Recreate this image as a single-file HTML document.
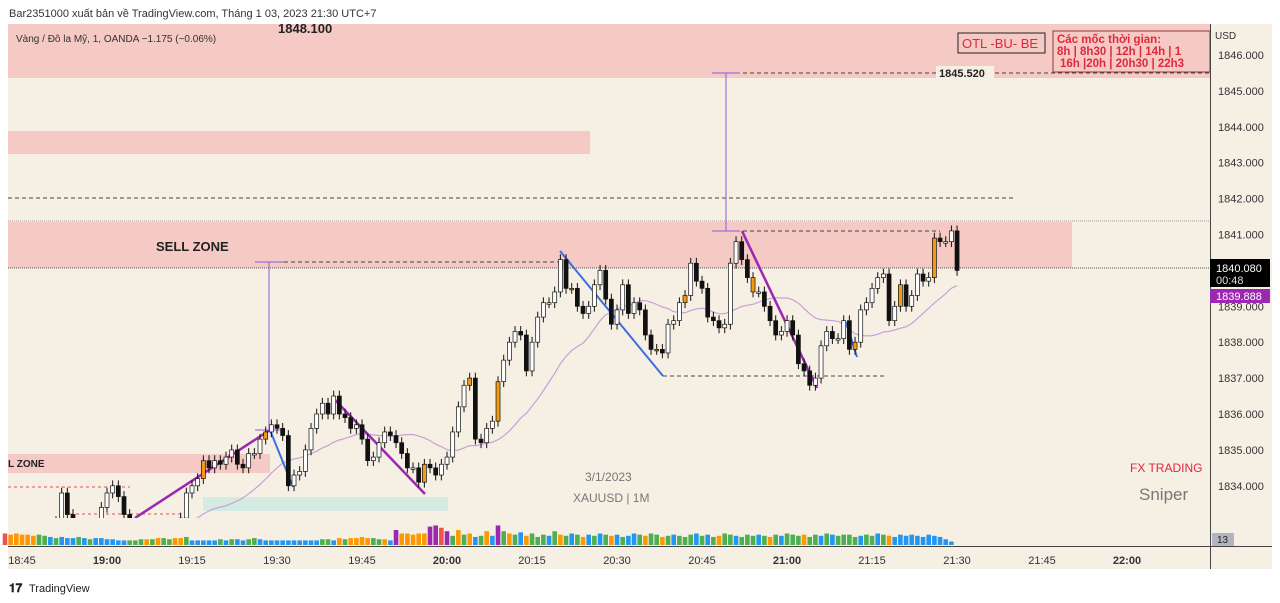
<!DOCTYPE html>
<html><head><meta charset="utf-8">
<style>
body{margin:0;background:#fff;font-family:"Liberation Sans","Noto Sans CJK SC",sans-serif;}
svg{display:block}
</style></head>
<body>
<svg id="c" width="1280" height="603" xmlns="http://www.w3.org/2000/svg">
<rect x="0" y="0" width="1280" height="603" fill="#fff"/>
<text x="9" y="17" font-size="11" fill="#333">Bar2351000 xuất bản về TradingView.com, Tháng 1 03, 2023 21:30 UTC+7</text>
<rect x="8" y="24" width="1264" height="545" fill="#f6efe4"/>
<g id="zones">
<rect x="8" y="24" width="1202" height="54" fill="#f5c9c4"/>
<rect x="8" y="131" width="582" height="23" fill="#f5c9c4"/>
<rect x="8" y="222" width="1064" height="46" fill="#f5c9c4"/>
<rect x="8" y="454" width="262" height="19" fill="#f5c9c4"/>
<rect x="203" y="497" width="245" height="14" fill="#d3ebe3"/>
</g>
<g stroke-width="1" fill="none">
<line x1="8" y1="221" x2="1210" y2="221" stroke="#999" stroke-dasharray="1,1"/>
<line x1="8" y1="268" x2="1210" y2="268" stroke="#555" stroke-dasharray="1,1"/>
<line x1="8" y1="198" x2="1015" y2="198" stroke="#444" stroke-dasharray="4,3"/>
<line x1="270" y1="262" x2="560" y2="262" stroke="#444" stroke-dasharray="4,3"/>
<line x1="715" y1="231" x2="940" y2="231" stroke="#444" stroke-dasharray="4,3"/>
<line x1="663" y1="376" x2="885" y2="376" stroke="#444" stroke-dasharray="4,3"/>
<line x1="715" y1="73" x2="1210" y2="73" stroke="#444" stroke-dasharray="4,3"/>
<line x1="8" y1="487" x2="130" y2="487" stroke="#e05050" stroke-dasharray="3,3"/>
<line x1="70" y1="514" x2="185" y2="514" stroke="#e05050" stroke-dasharray="3,3"/>
<line x1="269" y1="262" x2="269" y2="430" stroke="#8a5cd6"/>
<line x1="255" y1="262" x2="284" y2="262" stroke="#8a5cd6"/>
<line x1="255" y1="430" x2="284" y2="430" stroke="#8a5cd6"/>
<line x1="726" y1="73" x2="726" y2="231" stroke="#8a5cd6"/>
<line x1="712" y1="231" x2="740" y2="231" stroke="#8a5cd6"/>
<line x1="712" y1="73" x2="740" y2="73" stroke="#8a5cd6"/>
</g>
<rect x="936" y="66" width="58" height="14" fill="#f6efe4"/>
<text x="939" y="77" font-size="11" font-weight="bold" fill="#222">1845.520</text>
<text x="278" y="33" font-size="13" font-weight="bold" fill="#222">1848.100</text>
<text x="16" y="42" font-size="10" fill="#333">Vàng / Đô la Mỹ, 1, OANDA  −1.175 (−0.06%)</text>
<text x="156" y="251" font-size="13" font-weight="bold" fill="#222">SELL ZONE</text>
<text x="8" y="467" font-size="10" font-weight="bold" fill="#222">L ZONE</text>
<rect x="958" y="33" width="87" height="20" fill="none" stroke="#222"/>
<text x="962" y="48" font-size="13" fill="#e0283c">OTL -BU- BE</text>
<rect x="1053" y="31" width="157" height="41" fill="none" stroke="#8a3a3a"/>
<text font-size="11.5" fill="#e0283c" font-weight="bold"><tspan x="1057" y="43">Các mốc thời gian:</tspan><tspan x="1057" y="55">8h | 8h30 | 12h | 14h | 1</tspan><tspan x="1060" y="67">16h |20h | 20h30 | 22h3</tspan></text>
<text x="1130" y="472" font-size="12" fill="#e0283c">FX TRADING</text>
<text x="1139" y="500" font-size="17" fill="#777">Sniper</text>
<text x="585" y="481" font-size="12" fill="#777">3/1/2023</text>
<text x="573" y="502" font-size="12" fill="#777">XAUUSD | 1M</text>
<g id="plot"></g>
<line x1="8" y1="546.5" x2="1272" y2="546.5" stroke="#444"/>
<line x1="1210.5" y1="24" x2="1210.5" y2="569" stroke="#444"/>
<g id="axes"></g>
<rect x="1210" y="259" width="60" height="28" fill="#000"/>
<text x="1216" y="272" font-size="11" fill="#fff">1840.080</text>
<text x="1216" y="284" font-size="11" fill="#ddd">00:48</text>
<rect x="1210" y="289" width="60" height="14" fill="#9c27b0"/>
<text x="1216" y="300" font-size="11" fill="#fff">1839.888</text>
<rect x="1212" y="533" width="22" height="13" fill="#b2b5be"/>
<text x="1217" y="543" font-size="10" fill="#222">13</text>
<text x="1215" y="39" font-size="10" fill="#333">USD</text>
<g>
<text x="9" y="592" font-size="12" font-weight="bold" fill="#222">𝟏𝟕</text>
<text x="29" y="592" font-size="11" fill="#222">TradingView</text>
</g>
</svg>
<script>
const closes=[1832.4,1832.5,1832.4,1832.5,1832.4,1832.3,1832.5,1832.4,1832.6,1833.0,1833.8,1833.2,1832.6,1832.4,1832.5,1832.6,1832.8,1833.4,
1833.8,1834.0,1833.7,1833.2,1832.8,1832.6,1832.5,1832.6,1832.4,1832.5,1832.6,1832.7,1832.9,1833.1,1833.8,1834.0,1834.2,1834.7,1834.5,1834.7,1834.6,1834.8,1835.0,1834.6,1834.5,1834.9,1834.9,1835.3,1835.5,1835.7,1835.6,1835.4,1834.0,1834.3,1834.4,1835.0,1835.6,1836.0,1836.3,1836.0,1836.5,1836.0,1835.9,1835.6,1835.7,1835.3,1834.7,1834.8,1835.2,1835.5,1835.4,1835.2,1834.9,1834.5,1834.5,1834.1,1834.6,1834.5,1834.3,1834.6,
1834.8,1835.5,1836.2,1836.8,1837.0,1835.3,1835.2,1835.6,1835.8,1836.9,1837.5,1838.0,1838.3,1838.2,1837.2,1838.0,1838.7,1839.1,1839.1,1839.4,1840.3,1839.5,1839.5,1839.0,1838.8,1839.0,1839.6,1840.0,1839.2,1838.5,1838.9,1839.6,1838.8,1839.1,1838.9,1838.2,1837.8,1837.8,1837.7,1838.5,1838.6,1839.1,1839.3,1840.2,1839.7,1839.5,1838.7,1838.6,1838.4,1838.5,1840.2,1840.8,1840.3,1839.8,1839.4,1839.4,1839.0,1838.6,1838.2,1838.3,1838.6,1838.2,1837.4,1837.2,1836.8,1837.0,1837.9,1838.3,1838.1,1838.1,1838.6,1837.8,1838.0,1838.9,1839.1,1839.5,1839.8,1839.9,1838.6,1839.0,1839.6,1839.0,1839.3,1839.9,1839.7,1839.8,1840.9,1840.8,1840.8,1841.1,1840.0];
const orangeIdx=[35,46,74,82,87,100,115,120,132,150,158,164];
const vols=[10,9,10,9,9,8,9,8,7,6,7,6,6,7,6,5,6,6,5,5,4,4,4,4,5,5,5,6,6,5,6,6,7,4,4,4,4,4,5,4,5,5,4,5,6,5,4,4,4,4,4,4,4,4,4,4,5,5,4,6,5,6,6,7,6,6,5,5,4,13,10,10,9,10,10,16,17,15,12,8,13,9,10,7,8,12,8,17,12,10,9,11,8,10,7,9,8,12,9,8,10,9,7,9,8,10,9,8,9,7,8,10,9,8,10,9,7,8,9,8,7,9,10,8,9,7,8,10,9,8,7,9,8,9,8,7,9,8,10,9,8,9,7,9,8,10,9,8,9,9,7,8,9,8,10,9,8,7,9,8,9,8,7,9,8,7,5,3];
const volColors="roooooggbgbbbgbgbbbbbbgggogoggoogbbbbbgbgbbggbbbbbbbbbbbggbogooooggobpooooopprpgogobgobpgogbogggbgogbgobgbgobgbbgoggogbgggbgbgoggbgggbgogbgggoggbgbggggbggbgob";
const priceTicks=[1834,1835,1836,1837,1838,1839,1840,1841,1842,1843,1844,1845,1846];
const timeTicks=["18:45","19:00","19:15","19:30","19:45","20:00","20:15","20:30","20:45","21:00","21:15","21:30","21:45","22:00"];
const boldTimes=["19:00","20:00","21:00","22:00"];

const NS="http://www.w3.org/2000/svg";
const plot=document.getElementById('plot'),axes=document.getElementById('axes');
const xOf=i=>5+i*5.667;
const yOf=p=>55+(1846-p)*35.9;
const tx=k=>22+k*85;
function mk(tag,at,parent){const e=document.createElementNS(NS,tag);for(const k in at)e.setAttribute(k,at[k]);parent.appendChild(e);return e;}
const clip=mk('clipPath',{id:'cp'},plot);mk('rect',{x:8,y:24,width:1202,height:494},clip);
const cg=mk('g',{'clip-path':'url(#cp)'},plot);
let pts=[];
for(let i=0;i<closes.length;i++){const s=closes.slice(Math.max(0,i-19),i+1);const m=s.reduce((a,b)=>a+b,0)/s.length;pts.push(xOf(i).toFixed(1)+','+yOf(m).toFixed(1));}
const ma=mk('polyline',{points:pts.join(' '),fill:'none',stroke:'#c9a0d6','stroke-width':1.2},cg);


const tl=[[135,518,270,430,'#9c27b0',2.5],[335,400,425,494,'#9c27b0',2.5],[270,430,293,487,'#3b6fe0',2],[560,251,663,376,'#3b6fe0',2],[742,231,817,388,'#9c27b0',2.5],[846,322,857,357,'#3b6fe0',2]];
tl.forEach(t=>{const l=mk('line',{x1:t[0],y1:t[1],x2:t[2],y2:t[3],stroke:t[4],'stroke-width':t[5]},cg);

});
for(let i=0;i<closes.length;i++){
 const c=closes[i],o=i>0?closes[i-1]:c;
 const x=xOf(i),hi=Math.max(o,c),lo=Math.min(o,c);
 const up=c>=o,orange=orangeIdx.includes(i);
 const g=mk('g',{},cg);
 
 
 mk('line',{x1:x,x2:x,y1:yOf(hi+0.15),y2:yOf(lo-0.15),stroke:'#111','stroke-width':1},g);
 const top=yOf(hi),h=Math.max(1.5,yOf(lo)-top);
 mk('rect',{x:x-2,y:top,width:4,height:h,fill:orange?'#f39c12':(up?'#fff':'#111'),stroke:'#111','stroke-width':0.7},g);
}
const cmap={r:'#ef5350',o:'#ff9800',g:'#4caf50',b:'#2196f3',p:'#9c27b0'};
for(let i=0;i<vols.length;i++){
 const h=vols[i]*1.15;
 const r=mk('rect',{x:xOf(i)-2.3,y:545-h,width:4.6,height:h,fill:cmap[volColors[i]]||'#2196f3'},plot);
 
 
}
priceTicks.forEach(p=>{const t=mk('text',{x:1218,y:yOf(p)+4,'font-size':11,fill:'#333'},axes);t.textContent=p.toFixed(3);

});
timeTicks.forEach((s,k)=>{const t=mk('text',{x:tx(k),y:564,'font-size':11,fill:'#333','text-anchor':'middle','font-weight':boldTimes.includes(s)?'bold':'normal'},axes);t.textContent=s;

});
</script>
</body></html>
